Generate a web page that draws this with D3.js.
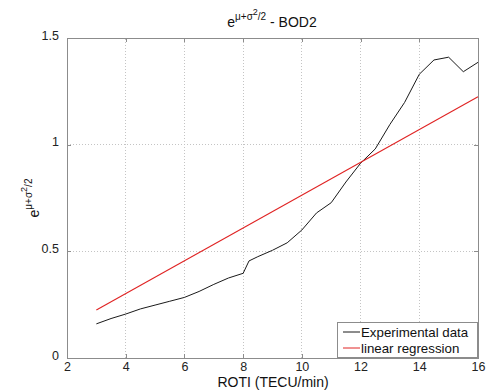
<!DOCTYPE html>
<html>
<head>
<meta charset="utf-8">
<script src="https://cdn.jsdelivr.net/npm/d3@7"></script>
<style>
  html, body { margin: 0; padding: 0; background: #fff; }
  svg { display: block; font-family: "Liberation Sans", Arial, sans-serif; }
</style>
</head>
<body>
<svg id="chart" width="497" height="391"></svg>
<script>
// ROTI values (TECU/min) and the measured e^(mu+sigma^2/2) for BOD2
const roti = [3, 3.5, 4, 4.5, 5, 5.5, 6, 6.5, 7, 7.5, 8, 8.2, 8.5, 9, 9.5, 10, 10.5, 11,
              11.5, 12, 12.5, 13, 13.5, 14, 14.5, 15, 15.5, 16];
const experimental = [0.16, 0.185, 0.206, 0.23, 0.248, 0.266, 0.284, 0.312, 0.345, 0.375,
                      0.397, 0.455, 0.475, 0.505, 0.54, 0.60, 0.68, 0.728,
                      0.825, 0.913, 0.98, 1.095, 1.198, 1.33, 1.397, 1.41, 1.342, 1.386];
// linear regression fit: y = slope * x + intercept
const regSlope = 0.0769;
const regIntercept = -0.006;
const regRange = [3, 16];

const xTicks = [2, 4, 6, 8, 10, 12, 14, 16];
const yTicks = [0, 0.5, 1, 1.5];
const yTickLabels = ["0", "0.5", "1", "1.5"];
const legendLabels = ["Experimental data", "linear regression"];
const seriesColors = ["#1a1a1a", "#e02424"];

const svg = d3.select("#chart");
const margin = { left: 67, right: 19, top: 38, bottom: 33 };
const W = 497, H = 391;
const x0 = margin.left, x1 = W - margin.right, y0 = H - margin.bottom, y1 = margin.top;

const x = d3.scaleLinear().domain([2, 16]).range([x0, x1]);
const y = d3.scaleLinear().domain([0, 1.5]).range([y0, y1]);

const axisColor = "#8c8c8c";

// dotted grid
const grid = svg.append("g");
grid.selectAll("line.gx").data(xTicks.slice(1, -1)).join("line")
  .attr("x1", d => x(d)).attr("x2", d => x(d)).attr("y1", y0).attr("y2", y1)
  .attr("stroke", "#c4c4c4").attr("stroke-width", 1).attr("stroke-dasharray", "1,2")
  .attr("shape-rendering", "crispEdges");
grid.selectAll("line.gy").data(yTicks.slice(1, -1)).join("line")
  .attr("x1", x0).attr("x2", x1).attr("y1", d => y(d)).attr("y2", d => y(d))
  .attr("stroke", "#c4c4c4").attr("stroke-width", 1).attr("stroke-dasharray", "1,2")
  .attr("shape-rendering", "crispEdges");

// axes with inward ticks on all four sides
const tickLen = 4;
const styleAxis = g => {
  g.select(".domain").remove();
  g.selectAll(".tick line").attr("stroke", axisColor).attr("shape-rendering", "crispEdges");
  g.selectAll(".tick text").attr("fill", "#222").attr("font-size", 12.5)
    .attr("font-family", "Liberation Sans, Arial, sans-serif");
};
svg.append("g").attr("transform", `translate(0,${y0})`)
  .call(d3.axisBottom(x).tickValues(xTicks).tickFormat(d3.format("d"))
        .tickSizeInner(-tickLen).tickSizeOuter(0).tickPadding(5))
  .call(styleAxis)
  .call(g => g.selectAll(".tick text").attr("dy", "0.66em"));
svg.append("g").attr("transform", `translate(0,${y1})`)
  .call(d3.axisTop(x).tickValues(xTicks).tickFormat("").tickSizeInner(-tickLen).tickSizeOuter(0))
  .call(styleAxis);
svg.append("g").attr("transform", `translate(${x0},0)`)
  .call(d3.axisLeft(y).tickValues(yTicks).tickFormat((d, i) => yTickLabels[i])
        .tickSizeInner(-tickLen).tickSizeOuter(0).tickPadding(8))
  .call(styleAxis)
  .call(g => g.selectAll(".tick text").attr("dy", "0.1em"));
svg.append("g").attr("transform", `translate(${x1},0)`)
  .call(d3.axisRight(y).tickValues(yTicks).tickFormat("").tickSizeInner(-tickLen).tickSizeOuter(0))
  .call(styleAxis);

// axes box
svg.append("rect").attr("x", x0).attr("y", y1).attr("width", x1 - x0).attr("height", y0 - y1)
  .attr("fill", "none").attr("stroke", axisColor).attr("stroke-width", 1)
  .attr("shape-rendering", "crispEdges");

// series
const line = d3.line().x(d => x(d[0])).y(d => y(d[1]));
svg.append("path").datum(roti.map((r, i) => [r, experimental[i]]))
  .attr("d", line).attr("fill", "none").attr("stroke", seriesColors[0]).attr("stroke-width", 1);
svg.append("path").datum(regRange.map(r => [r, regSlope * r + regIntercept]))
  .attr("d", line).attr("fill", "none").attr("stroke", seriesColors[1]).attr("stroke-width", 1.1);

// legend
const lg = svg.append("g").attr("transform", "translate(337,322)");
lg.append("rect").attr("width", 140).attr("height", 35).attr("fill", "#fff")
  .attr("stroke", axisColor).attr("shape-rendering", "crispEdges");
legendLabels.forEach((t, i) => {
  const cy = 10 + i * 16;
  lg.append("line").attr("x1", 6).attr("x2", 23).attr("y1", cy).attr("y2", cy)
    .attr("stroke", seriesColors[i]).attr("stroke-width", 1);
  lg.append("text").attr("x", 24).attr("y", cy + 4.5).attr("font-size", 13.3).attr("fill", "#111").text(t);
});

// title: e^{mu+sigma^2/2} - BOD2
const title = svg.append("text").attr("x", 272).attr("y", 27).attr("text-anchor", "middle")
  .attr("font-size", 14).attr("fill", "#111");
title.append("tspan").text("e");
title.append("tspan").attr("font-size", 10).attr("dy", -7).text("μ+σ");
title.append("tspan").attr("font-size", 9).attr("dy", -5).text("2");
title.append("tspan").attr("font-size", 10).attr("dy", 5).text("/2");
title.append("tspan").attr("dy", 7).text(" - BOD2");

// y label
const yl = svg.append("text").attr("transform", `translate(39,${(y0 + y1) / 2}) rotate(-90)`)
  .attr("text-anchor", "middle").attr("font-size", 14).attr("fill", "#111");
yl.append("tspan").text("e");
yl.append("tspan").attr("font-size", 10).attr("dy", -7).text("μ+σ");
yl.append("tspan").attr("font-size", 9).attr("dy", -5).text("2");
yl.append("tspan").attr("font-size", 10).attr("dy", 5).text("/2");

// x label
svg.append("text").attr("x", 273).attr("y", 387).attr("text-anchor", "middle")
  .attr("font-size", 14).attr("fill", "#111").text("ROTI (TECU/min)");
</script>
</body>
</html>
